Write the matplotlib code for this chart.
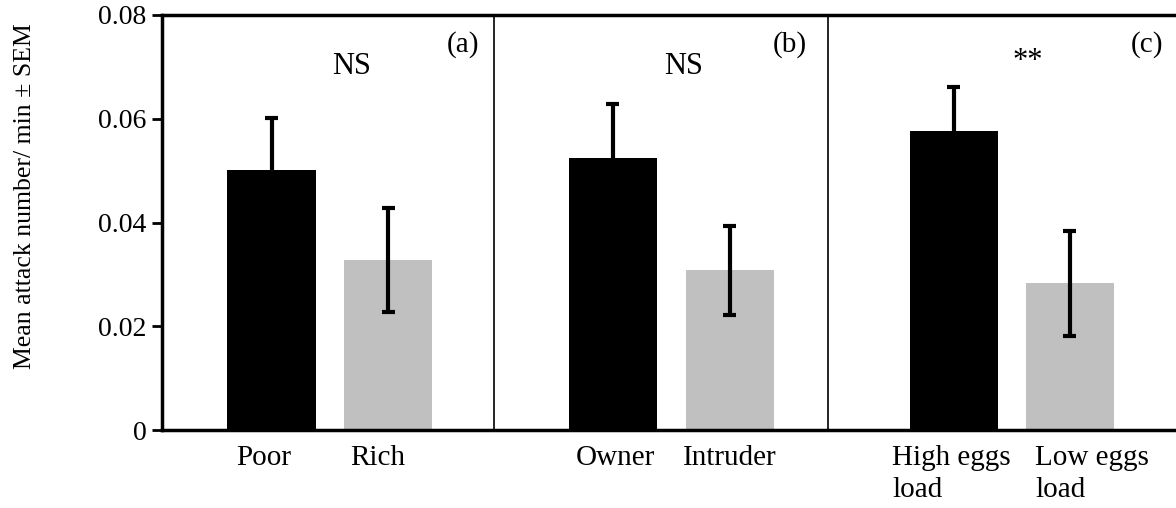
import matplotlib
matplotlib.use("Agg")
import matplotlib.pyplot as plt
import matplotlib.transforms as mtransforms

plt.rcParams['font.family'] = ['Liberation Serif', 'DejaVu Serif']

# data
categories = ["Poor", "Rich", "Owner", "Intruder", "High eggs\nload", "Low eggs\nload"]
means = [0.0501, 0.0328, 0.0525, 0.0308, 0.0576, 0.0283]
sems = [0.0100, 0.0100, 0.0103, 0.0086, 0.0086, 0.0101]
bar_colors = ["black", "#c0c0c0", "black", "#c0c0c0", "black", "#c0c0c0"]
panel_tags = ["(a)", "(b)", "(c)"]
signif = ["NS", "NS", "**"]
yticks = [0, 0.02, 0.04, 0.06, 0.08]
ytick_labels = ["0", "0.02", "0.04", "0.06", "0.08"]

# layout (x in axis units, roughly pixels from the left spine)
xpos = [109.5, 226, 450.5, 567.5, 791.5, 907.5]
label_left = [74, 188, 414, 521, 730, 873]
separators = [332, 666]
sig_x = [190, 522, 866]
sig_y = [0.877, 0.877, 0.889]
tag_x = [301, 628, 985]
cap_half = 6.5

fig = plt.figure(figsize=(11.76, 5.08), dpi=100)
ax = fig.add_axes([162 / 1176, 1 - 430 / 508, 1 - 162 / 1176, 415 / 508])

ax.bar(xpos, means, width=88, color=bar_colors, zorder=2)
for x, m, s, c in zip(xpos, means, sems, bar_colors):
    if c == "black":
        # upper error only on the black bars
        lo = m
    else:
        lo = m - s
        ax.hlines(lo, x - cap_half, x + cap_half, color='black', lw=3, zorder=3)
    ax.vlines(x, lo, m + s, color='black', lw=3, zorder=3)
    ax.hlines(m + s, x - cap_half, x + cap_half, color='black', lw=3, zorder=3)

for sx in separators:
    ax.axvline(sx, color='black', linewidth=1.2, zorder=1)

ax.set_xlim(0, 1014)
ax.set_ylim(0, 0.08)
ax.set_yticks(yticks)
ax.set_yticklabels(ytick_labels, fontsize=20)
ax.set_xticks([])
ax.tick_params(axis='y', direction='out', length=7, width=2, pad=4)

for side in ['left', 'top', 'bottom']:
    ax.spines[side].set_linewidth(2.5)
ax.spines['right'].set_visible(False)

trans = mtransforms.blended_transform_factory(ax.transData, ax.transAxes)
for lx, lab in zip(label_left, categories):
    ax.text(lx, -0.036, lab, transform=trans, ha='left', va='top',
            fontsize=21, linespacing=1.28)

for sx, sy, s in zip(sig_x, sig_y, signif):
    ax.text(sx, sy, s, transform=trans, ha='center', va='center', fontsize=22)

for tx, t in zip(tag_x, panel_tags):
    ax.text(tx, 0.93, t, transform=trans, ha='center', va='center', fontsize=21)

fig.text(25 / 1176, 1 - 196 / 508, "Mean attack number/ min \u00b1 SEM",
         rotation=90, ha='center', va='center', fontsize=18.5)

fig.savefig("out.png", dpi=100)
